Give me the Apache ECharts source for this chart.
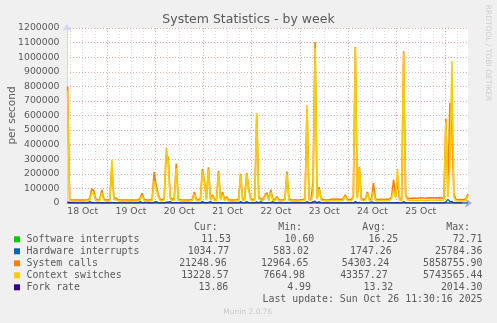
<!DOCTYPE html>
<html><head><meta charset="utf-8">
<script src="https://cdn.jsdelivr.net/npm/echarts@6/dist/echarts.min.js"></script>
<style>html,body{margin:0;padding:0;background:#F0F0F0;}#c{width:497px;height:323px;}</style>
</head><body><div id="c"></div><script>
// ---- data (hours counted from 18 Oct 00:00) ----
const DAY_LABELS = ['18 Oct','19 Oct','20 Oct','21 Oct','22 Oct','23 Oct','24 Oct','25 Oct'];
const LABEL_HOURS = [12,36,60,84,108,132,156,180];
const MIDNIGHT_HOURS = [24,48,72,96,120,144,168,192];
const SIX_HOUR_LINES = [6,12,18,30,36,42,54,60,66,78,84,90,102,108,114,126,132,138,150,156,162,174,180,186,198];
const X_MIN = 4.2, X_MAX = 203.5;
const Y_MAX = 1200000, Y_STEP = 100000;
const START_HOUR = 4.5, STEP = 1, SLOW_STEP = 4;

const SYSCALLS = [
800000,22000,21000,20000,20500,21000,20000,19500,20000,21000,
22000,30000,98000,83000,25000,21000,24000,90000,30000,21000,
20000,23000,250000,30000,35000,22000,21000,20000,20500,21000,
20000,19500,20000,21000,20000,22000,30000,67000,25000,21000,
20000,21000,24000,212000,119000,60000,25000,22000,30000,330000,
312000,40000,25000,30000,270000,28000,22000,21000,20000,21000,
20000,22000,25000,75000,24000,22000,30000,233000,153000,30000,
244000,28000,56000,25000,22000,221000,30000,75000,24000,43000,
22000,21000,20000,21000,22000,25000,200000,26000,30000,206000,
100000,30000,24000,28000,600000,40000,30000,24000,50000,70000,
25000,89000,26000,24000,43000,22000,21000,22000,26000,215000,
28000,22000,21000,22000,20000,21000,22000,24000,30000,650000,
30000,26000,148000,1104000,35000,108000,30000,24000,22000,21000,
22000,26000,27000,26000,27000,26000,25000,28000,55000,26000,
24000,25000,45000,1070000,40000,247000,30000,25000,28000,75000,
26000,24000,137000,30000,22000,24000,25000,24000,26000,25000,
28000,40000,158000,45000,150000,30000,26000,1040000,55000,30000,
32000,33000,34000,33000,32000,34000,35000,34000,33000,35000,
36000,35000,34000,36000,35000,37000,34000,30000,576000,66000,
688000,500000,60000,25000,22000,24000,23000,22000,30000,62000];

const CTXSW = [
770000,14000,13000,12000,12500,13000,12000,11500,12000,13000,
14000,20000,70000,60000,16000,13000,15000,70000,20000,13000,
12000,14000,297000,20000,25000,14000,13000,12000,12500,13000,
12000,11500,12000,13000,12000,14000,20000,50000,16000,13000,
12000,13000,15000,150000,100000,45000,16000,14000,20000,380000,
290000,30000,16000,20000,240000,18000,14000,13000,12000,13000,
12000,14000,16000,60000,15000,14000,20000,220000,140000,20000,
230000,18000,45000,16000,14000,210000,20000,60000,15000,35000,
14000,13000,12000,13000,14000,16000,195000,17000,20000,200000,
90000,20000,15000,18000,617000,30000,20000,15000,40000,60000,
16000,75000,17000,15000,35000,14000,13000,14000,17000,200000,
18000,14000,13000,14000,12000,13000,14000,15000,20000,672000,
20000,17000,60000,1063000,25000,95000,20000,15000,14000,13000,
14000,15000,16000,15000,16000,15000,15000,18000,45000,16000,
15000,16000,35000,1065000,30000,240000,20000,16000,18000,65000,
16000,15000,80000,20000,14000,15000,16000,15000,16000,15000,
18000,30000,90000,35000,235000,20000,16000,1030000,45000,20000,
17000,18000,18000,17000,16000,18000,19000,18000,17000,19000,
20000,19000,18000,20000,19000,21000,18000,20000,557000,40000,
250000,974000,40000,15000,13000,15000,14000,13000,20000,50000];

const HWIRQ = [
9000,1100,1000,1000,950,1000,1000,950,1000,1000,
1100,9000,3000,2500,1000,1000,1100,2500,1000,1000,
1000,1000,4000,1100,1200,1000,1000,950,1000,1000,
1000,950,1000,1000,1000,1000,9000,2000,1000,9000,
1000,1000,1100,5000,10000,2000,1000,1000,1000,6000,
5000,10000,1000,1000,4000,1000,1000,1000,950,1000,
1000,1000,1000,2000,1000,1000,1000,10000,3000,1000,
4000,9000,1500,1000,1000,4000,1000,2000,1000,1200,
1000,1000,950,1000,1000,1000,10000,1000,1000,10000,
2000,1000,1000,1000,8000,1000,9000,1000,1200,1500,
1000,1800,9000,1000,1200,1000,1000,1000,1000,4000,
1000,1000,1000,1000,950,1000,1000,1000,1000,9000,
1000,1000,9000,12000,1000,9000,1000,1000,1000,1000,
1000,1000,1000,1000,1000,1000,1000,1000,1200,1000,
1000,1000,1200,10000,1000,4000,1000,1000,1000,1500,
1000,9000,2000,1000,1000,1000,1000,1000,1000,1000,
1000,1000,2500,1000,3000,1000,1000,9000,1200,1000,
1000,1000,1000,1000,1000,1000,1000,1000,1000,1000,
1000,1000,1000,1000,1000,1000,1000,1000,8000,25000,
10000,9000,1200,1000,1000,1000,1000,1000,1000,1034.77];

const SOFTIRQ = [14,13,12,15,72,16,14,13,18,20,15,14,13,16,22,17,15,14,19,25,16,15,14,17,21,16,15,13,18,24,17,15,14,16,20,16,15,14,17,19,15,14,13,16,18,15,14,13,12,11.53];
const FORKS = [2014,12,10,14,20,13,11,9,15,18,12,11,10,14,19,13,12,10,15,22,13,12,11,14,20,14,12,10,16,21,13,12,11,13,18,13,12,11,14,17,12,11,10,13,16,12,11,10,9,13.86];

const NAMES = ['Software interrupts','Hardware interrupts','System calls','Context switches','Fork rate'];
const CUR = ['11.53','1034.77','21248.96','13228.57','13.86'];
const MIN = ['10.60','583.02','12964.65','7664.98','4.99'];
const AVG = ['16.25','1747.26','54303.24','43357.27','13.32'];
const MAX = ['72.71','25784.36','5858755.90','5743565.44','2014.30'];
const LAST_UPDATE = 'Last update: Sun Oct 26 11:30:16 2025';

// ---- styling ----
const COLORS = ['#00CC00','#0066B3','#FF8000','#FFCC00','#330099'];
const WIDTHS = [1.2,1.4,1.6,1.6,1.2];
const TXT = '#5a5a5a';
const SANS = '"DejaVu Sans", sans-serif';
const MONO = '"DejaVu Sans Mono", monospace';
const CUR_R = [231,229.3,226.7,228.7,228.3];
const MIN_R = [314.3,309,308.5,305,311];
const AVG_R = [398.3,391.7,389.3,387.7,393.3];
const MAX_R = [482.5,482.5,482.5,482.5,482.5];
const ROW_Y0 = 239.3, ROW_DY = 12;

function pts(vals, step){ return vals.map((v,i)=>[START_HOUR + i*step, v]); }
function line(idx, vals, step){
  const color = COLORS[idx];
  return {name:NAMES[idx], type:'line', data: pts(vals, step), showSymbol:false, symbol:'none',
    lineStyle:{color, width:WIDTHS[idx]}, itemStyle:{color}, clip:true, silent:true, animation:false};
}

const chart = echarts.init(document.getElementById('c'), null, {renderer:'canvas'});
const graphics = [];
function txt(text, x, y, opts){
  graphics.push({type:'text', silent:true, style:Object.assign({text, x, y, fill:TXT,
    font:'9.9px '+MONO, textAlign:'left', textVerticalAlign:'middle'}, opts||{})});
}
txt('System Statistics - by week', 248.5, 19.5, {font:'12.5px '+SANS, textAlign:'center'});
graphics.push({type:'text', silent:true, x:12, y:115.5, rotation:Math.PI/2,
  style:{text:'per second', x:0, y:0, fill:TXT, font:'10.5px '+SANS, textAlign:'center', textVerticalAlign:'middle'}});
graphics.push({type:'text', silent:true, x:487.5, y:53, rotation:-Math.PI/2,
  style:{text:'RRDTOOL / TOBI OETIKER', x:0, y:0, fill:'#cfcfcf', font:'7.5px '+SANS, textAlign:'center', textVerticalAlign:'middle'}});
txt('Cur:', 217.7, 227.3, {textAlign:'right'});
txt('Min:', 302, 227.3, {textAlign:'right'});
txt('Avg:', 386, 227.3, {textAlign:'right'});
txt('Max:', 470, 227.3, {textAlign:'right'});
NAMES.forEach((n,i)=>{
  const y = ROW_Y0 + i*ROW_DY;
  graphics.push({type:'rect', silent:true, shape:{x:14, y:y-3, width:6, height:6}, style:{fill:COLORS[i]}});
  txt(n, 26.5, y);
  txt(CUR[i], CUR_R[i], y, {textAlign:'right'});
  txt(MIN[i], MIN_R[i], y, {textAlign:'right'});
  txt(AVG[i], AVG_R[i], y, {textAlign:'right'});
  txt(MAX[i], MAX_R[i], y, {textAlign:'right'});
});
txt(LAST_UPDATE, 482.5, 299, {textAlign:'right'});
txt('Munin 2.0.76', 247.8, 312.3, {font:'7.5px '+SANS, textAlign:'center', fill:'#c8c8c8'});

const AXIS_C = '#CFD6F8';
const option = {
  backgroundColor:'#F0F0F0',
  animation:false,
  grid:{left:67, top:28, width:401, height:175, show:true, backgroundColor:'#FFFFFF', borderWidth:0, containLabel:false},
  xAxis:[
    {type:'value', min:X_MIN, max:X_MAX, position:'bottom',
     axisLine:{show:true, lineStyle:{color:'#A8A8E0', width:1}, symbol:['none','arrow'], symbolSize:[7,7], symbolOffset:[0,4]},
     axisTick:{show:false, customValues:MIDNIGHT_HOURS},
     splitLine:{show:true, lineStyle:{color:'rgba(222,48,48,0.42)', type:[1,2], width:1}},
     axisLabel:{show:true, customValues:LABEL_HOURS, color:TXT, fontFamily:'DejaVu Sans', fontSize:9.3, margin:4,
       formatter:(v)=>DAY_LABELS[LABEL_HOURS.indexOf(Math.round(v))]}},
    {type:'value', min:X_MIN, max:X_MAX, position:'bottom',
     axisLine:{show:false}, axisTick:{show:false, customValues:SIX_HOUR_LINES},
     splitLine:{show:true, lineStyle:{color:'rgba(143,143,143,0.33)', type:[1,2], width:1}},
     axisLabel:{show:false}}
  ],
  yAxis:{type:'value', min:0, max:Y_MAX, interval:Y_STEP,
     axisLine:{show:true, lineStyle:{color:AXIS_C, width:1}, symbol:['none','arrow'], symbolSize:[7,7], symbolOffset:[0,4]},
     axisTick:{show:false},
     splitLine:{show:true, lineStyle:{color:'rgba(222,48,48,0.42)', type:[1,2], width:1}},
     axisLabel:{color:TXT, fontFamily:'DejaVu Sans', fontSize:9.3, margin:7.5, formatter:(v)=>String(v)}},
  series:[
    line(0, SOFTIRQ, SLOW_STEP),
    line(1, HWIRQ, STEP),
    line(2, SYSCALLS, STEP),
    line(3, CTXSW, STEP),
    line(4, FORKS, SLOW_STEP)
  ],
  graphic:graphics
};
chart.setOption(option);
</script></body></html>
